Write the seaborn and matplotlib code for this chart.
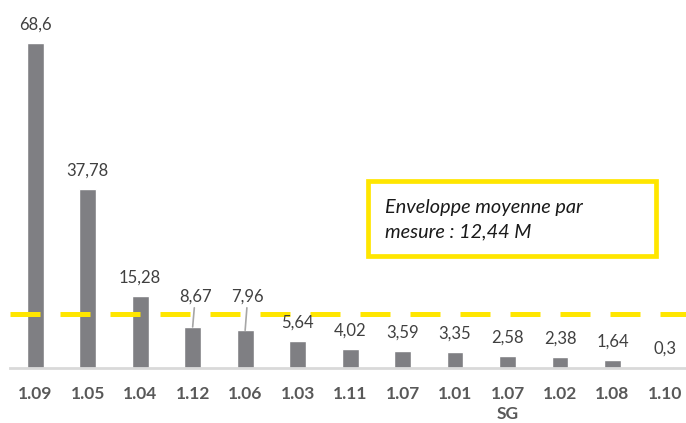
import pandas as pd
import seaborn as sns
import matplotlib.pyplot as plt
from matplotlib.patches import FancyBboxPatch

# Data
categories = ['1.09', '1.05', '1.04', '1.12', '1.06', '1.03', '1.11',
              '1.07', '1.01', '1.07\nSG', '1.02', '1.08', '1.10']
values = [68.6, 37.78, 15.28, 8.67, 7.96, 5.64, 4.02, 3.59, 3.35, 2.58, 2.38, 1.64, 0.3]
labels = ['68,6', '37,78', '15,28', '8,67', '7,96', '5,64', '4,02',
          '3,59', '3,35', '2,58', '2,38', '1,64', '0,3']
mean_value = 12.44

df = pd.DataFrame({'category': categories, 'value': values})

sns.set_style('white')
plt.rcParams['font.family'] = ['Lato', 'DejaVu Sans']

fig = plt.figure(figsize=(6.86, 4.23), dpi=100)
ax = fig.add_axes([0.0146, 0.13, 0.9854, 0.87])

sns.barplot(data=df, x='category', y='value', color='#7f7f83', saturation=1,
            width=0.32, ax=ax)

ax.set_xlim(-0.48, 12.4)
ax.set_ylim(0, 77.7)

# mean line
ax.axhline(mean_value - 1.0, color='#ffe600', lw=3.6, ls=(0, (6, 4)), zorder=3)

# value labels
for i, (v, lab) in enumerate(zip(values, labels)):
    if lab in ('8,67', '7,96'):
        ty = 13.4
        ax.annotate(lab, xy=(i, v), xytext=(i + 0.05, ty), ha='center', va='bottom',
                    fontsize=12, color='#404040',
                    arrowprops=dict(arrowstyle='-', color='#a6a6a6', lw=1.2,
                                    shrinkA=0, shrinkB=0))
    else:
        ax.text(i, v + 2.2, lab, ha='center', va='bottom', fontsize=12, color='#404040')

# callout box
box = FancyBboxPatch((0.536, 0.395), 0.42, 0.177, boxstyle='square,pad=0',
                     transform=fig.transFigure, fill=True, facecolor='white',
                     edgecolor='#ffe600', lw=3.4, zorder=5)
fig.patches.append(box)
fig.text(0.561, 0.53, 'Enveloppe moyenne par\nmesure : 12,44 M', ha='left', va='top',
         fontsize=14.3, style='italic', color='#1a1a1a', linespacing=1.55, zorder=6)

for s in ['top', 'right', 'left']:
    ax.spines[s].set_visible(False)
ax.spines['bottom'].set_color('#d9d9d9')
ax.spines['bottom'].set_linewidth(2)
ax.set_yticks([])
ax.set_xlabel('')
ax.set_ylabel('')
ax.tick_params(axis='x', length=0, pad=13, labelsize=12.5, labelcolor='#595959')
for t in ax.get_xticklabels():
    t.set_fontweight('bold')
    t.set_verticalalignment('top')
    t.set_linespacing(1.3)

fig.savefig('out.png', dpi=100)
